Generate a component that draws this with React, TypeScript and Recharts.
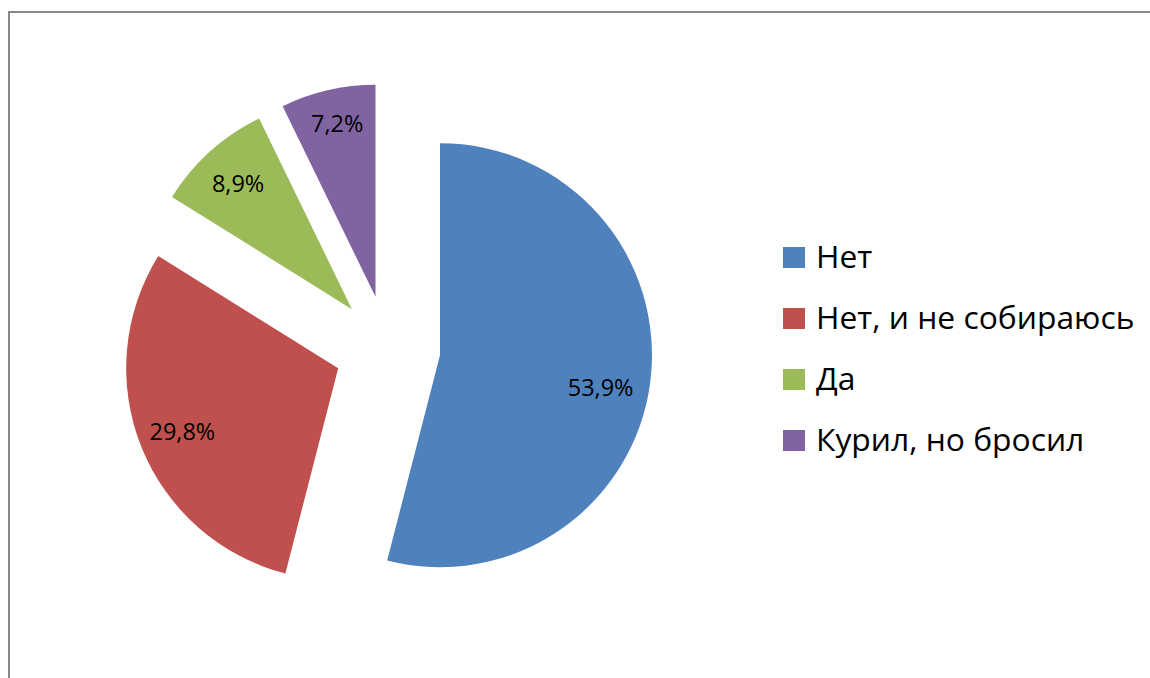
import React from 'react';
import { PieChart, Pie, Cell, Legend } from 'recharts';

const CATEGORIES = ['Нет', 'Нет, и не собираюсь', 'Да', 'Курил, но бросил'];
const VALUES = [53.9, 29.8, 8.9, 7.2];
const COLORS = ['#4F81BD', '#C0504D', '#9BBB59', '#8064A2'];

const data = CATEGORIES.map((name, i) => ({ name, value: VALUES[i] }));

const W = 1150;
const H = 678;
const CX = 387.4;
const CY = 348.5;
const RADIUS = 212;
const EXPLODE = 53;
const LABEL_R = 170;
const FONT = '"Open Sans", "Noto Sans", sans-serif';
// small layout nudges for data labels (Excel best-fit placement)
const LABEL_NUDGE = [
  { dx: -8, dy: 10 },
  { dx: 2, dy: 0 },
  { dx: 0, dy: 0 },
  { dx: 0, dy: -8 },
];

const total = VALUES.reduce((a, b) => a + b, 0);
let cum = 0;
const centers = VALUES.map((v) => {
  const mid = 90 - (360 * (cum + v / 2)) / total;
  cum += v;
  const rad = (mid * Math.PI) / 180;
  return { cx: CX + EXPLODE * Math.cos(rad), cy: CY - EXPLODE * Math.sin(rad) };
});

const fmt = (v: number) => v.toFixed(1).replace('.', ',') + '%';

const makeLabel = (k: number) => (props: any) => {
  const { cx, cy, midAngle, index, value } = props;
  if (index !== k) return null;
  const rad = (-midAngle * Math.PI) / 180;
  const x = cx + LABEL_R * Math.cos(rad) + LABEL_NUDGE[k].dx;
  const y = cy + LABEL_R * Math.sin(rad) + LABEL_NUDGE[k].dy;
  return (
    <text
      x={x}
      y={y}
      textAnchor="middle"
      dominantBaseline="central"
      fill="#000"
      style={{ fontFamily: FONT, fontSize: 23.5 }}
    >
      {fmt(value)}
    </text>
  );
};

const LegendContent = () => (
  <svg width={360} height={260} style={{ display: 'block' }}>
    {CATEGORIES.map((name, i) => (
      <g key={name}>
        <rect x={3} y={17 + 61 * i} width={22} height={21} fill={COLORS[i]} />
        <text
          x={36}
          y={38 + 61 * i}
          fill="#000"
          style={{ fontFamily: FONT, fontSize: 31.8 }}
        >
          {name}
        </text>
      </g>
    ))}
  </svg>
);

export default function App() {
  return (
    <div
      style={{
        position: 'absolute',
        left: 0,
        top: 0,
        width: W,
        height: H,
        overflow: 'hidden',
        background: '#fff',
      }}
    >
      <div
        style={{
          position: 'absolute',
          left: 8,
          top: 11,
          width: 1300,
          height: 800,
          border: '2px solid #878787',
          boxSizing: 'border-box',
        }}
      />
      <div style={{ position: 'absolute', left: 0, top: 0 }}>
        <PieChart width={W} height={H} margin={{ top: 0, right: 0, bottom: 0, left: 0 }}>
          {VALUES.map((_, k) => (
            <Pie
              key={k}
              data={data}
              dataKey="value"
              nameKey="name"
              cx={centers[k].cx}
              cy={centers[k].cy}
              outerRadius={RADIUS}
              innerRadius={0}
              startAngle={90}
              endAngle={-270}
              stroke="none"
              labelLine={false}
              label={makeLabel(k)}
              isAnimationActive={false}
              legendType="none"
            >
              {data.map((d, i) => (
                <Cell key={d.name} fill={i === k ? COLORS[i] : 'none'} stroke="none" />
              ))}
            </Pie>
          ))}
          <Legend
            layout="vertical"
            align="right"
            verticalAlign="top"
            content={<LegendContent />}
            wrapperStyle={{ left: 780, top: 230, width: 360, height: 260 }}
          />
        </PieChart>
      </div>
    </div>
  );
}
